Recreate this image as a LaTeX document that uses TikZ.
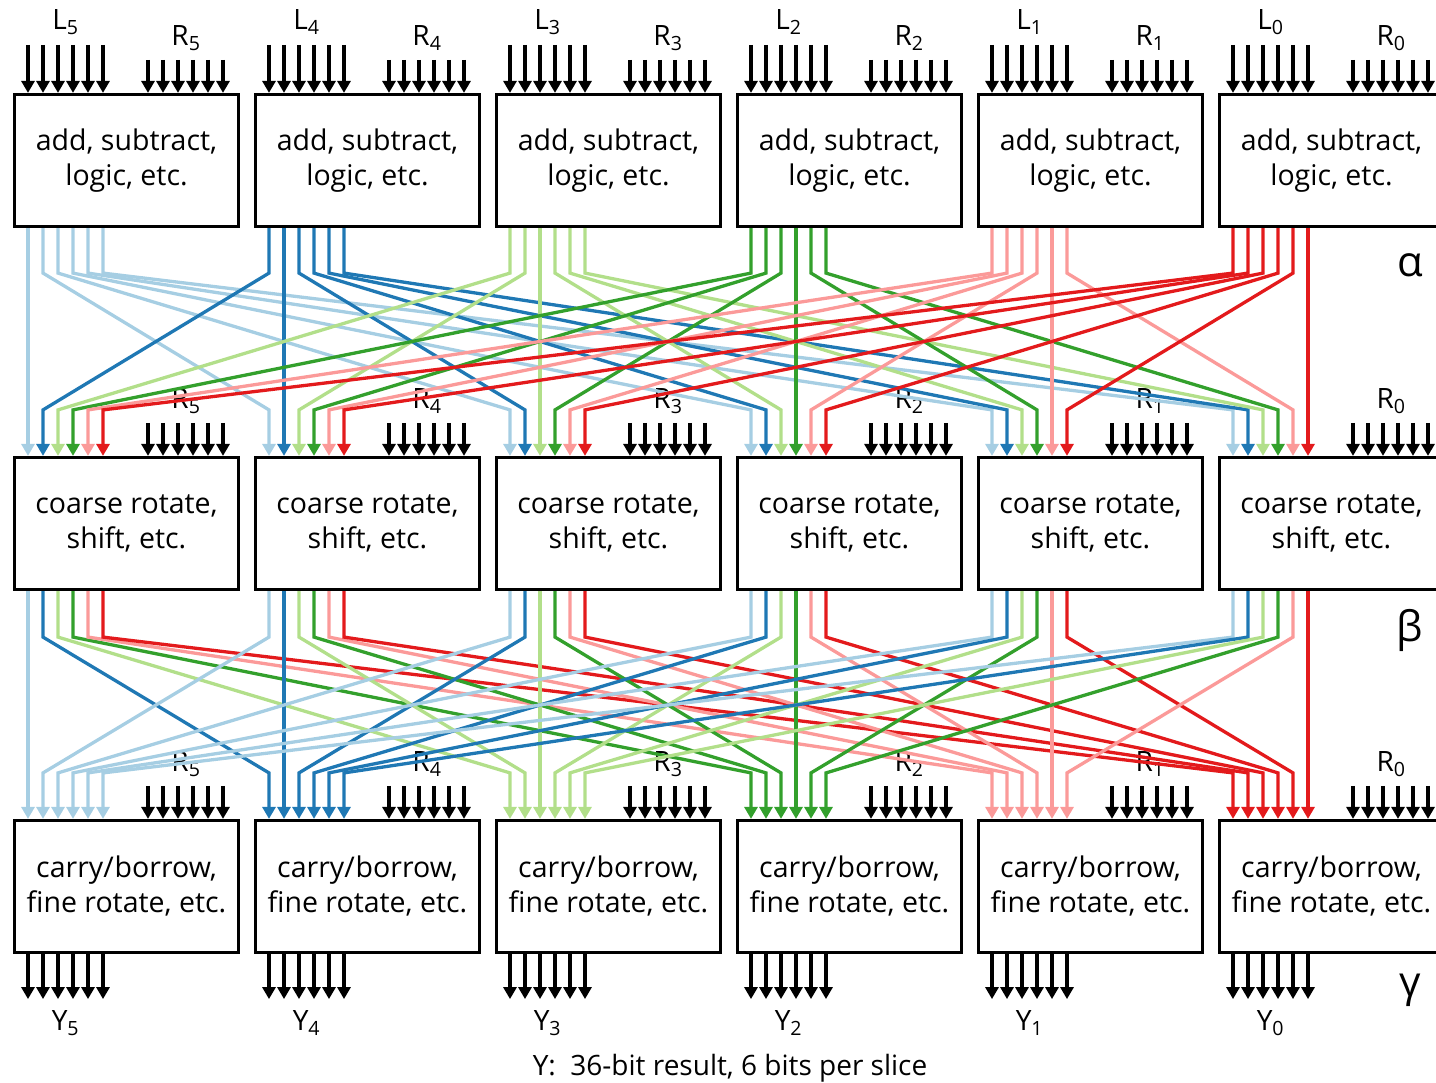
\documentclass[tikz,border=0pt]{standalone}
\usepackage{fontspec}
\setmainfont{Open Sans}
\usetikzlibrary{arrows.meta,positioning}
\definecolor{SLCyan}{HTML}{A6CEE3}
\definecolor{SLBlue}{HTML}{1F78B4}
\definecolor{SLLime}{HTML}{B2DF8A}
\definecolor{SLGreen}{HTML}{33A02C}
\definecolor{SLPink}{HTML}{FB9A99}
\definecolor{SLRed}{HTML}{E31A1C}
\colorlet{SL0}{SLCyan}
\colorlet{SL1}{SLBlue}
\colorlet{SL2}{SLLime}
\colorlet{SL3}{SLGreen}
\colorlet{SL4}{SLPink}
\colorlet{SL5}{SLRed}

\begin{document}
\begin{tikzpicture}[
  x=1pt, y=-1pt,
  slice/.style={draw, line width=3.2pt, minimum width=224pt, minimum height=132pt, inner sep=0pt, align=center, font=\fontsize{28.5}{35}\selectfont},
  bus/.style={line width=3.3pt, -{Triangle[length=12pt,width=13pt]}},
  wire/.style={bus, line join=miter},
  lbl/.style={inner sep=0pt, font=\fontsize{28}{32}\selectfont},
  greek/.style={inner sep=0pt, font=\fontsize{42}{48}\selectfont}
]
\useasboundingbox (0,0) rectangle (1436,1083);

% three rows of slices, slice 5 on the left
\foreach \k in {0,...,5} {
  \node[slice] (A\k) at (126.5+241*\k,160.5) {add, subtract,\\logic, etc.};
  \node[slice] (B\k) at (126.5+241*\k,523.5) {coarse rotate,\\shift, etc.};
  \node[slice] (C\k) at (126.5+241*\k,886.5) {carry/\kern1pt borrow,\\fine rotate, etc.};
}

% pins
\foreach \r in {A,B,C} {
  \foreach \k in {0,...,5} {
    \foreach \j in {0,...,5} {
      \coordinate (\r\k-i\j) at ([xshift={(-98.5+15*\j)*1pt}]\r\k.north);
      \coordinate (\r\k-o\j) at ([xshift={(-98.5+15*\j)*1pt}]\r\k.south);
      \coordinate (\r\k-r\j) at ([xshift={(21.5+15*\j)*1pt}]\r\k.north);
    }
  }
}

% black inputs and outputs
\foreach \k in {0,...,5} {
  \foreach \j in {0,...,5} {
    \draw[bus] ([yshift=48pt]A\k-i\j) -- (A\k-i\j);
    \draw[bus] ([yshift=33pt]A\k-r\j) -- (A\k-r\j);
    \draw[bus] ([yshift=33pt]B\k-r\j) -- (B\k-r\j);
    \draw[bus] ([yshift=33pt]C\k-r\j) -- (C\k-r\j);
    \draw[bus] (C\k-o\j) -- ([yshift=-45pt]C\k-o\j);
  }
  \pgfmathtruncatemacro{\s}{5-\k}
  \node[lbl] (L\s) at (65.5+241*\k,22) {L\textsubscript{\s}};
  \node[lbl] (RA\s) at (186+241*\k,38) {R\textsubscript{\s}};
  \node[lbl] (RB\s) at (186+241*\k,401) {R\textsubscript{\s}};
  \node[lbl] (RC\s) at (186+241*\k,764) {R\textsubscript{\s}};
  \node[lbl] (Y\s) at (65.5+241*\k,1023) {Y\textsubscript{\s}};
}

% alpha: pin j of slice c goes to pin c of slice j
\foreach \c in {0,...,5} {
  \foreach \j in {0,...,5} {
    \draw[wire, draw=SL\c] (A\c-o\j) -- ++(0,45) -- ([yshift=46pt]B\j-i\c) -- (B\j-i\c);
  }
}

% beta: same exchange, coloured by the slice it ends in
\foreach \c in {0,...,5} {
  \foreach \j in {0,...,5} {
    \draw[wire, draw=SL\j] (B\c-o\j) -- ++(0,46) -- ([yshift=46pt]C\j-i\c) -- (C\j-i\c);
  }
}

\node[greek] (alpha) at (1410,265) {α};
\node[greek] (beta) at (1410,630) {β};
\node[greek] (gamma) at (1410,990) {γ};
\node[lbl] (caption) at (730,1068) {Y:\ \ 36-bit result, 6 bits per slice};
\end{tikzpicture}
\end{document}
